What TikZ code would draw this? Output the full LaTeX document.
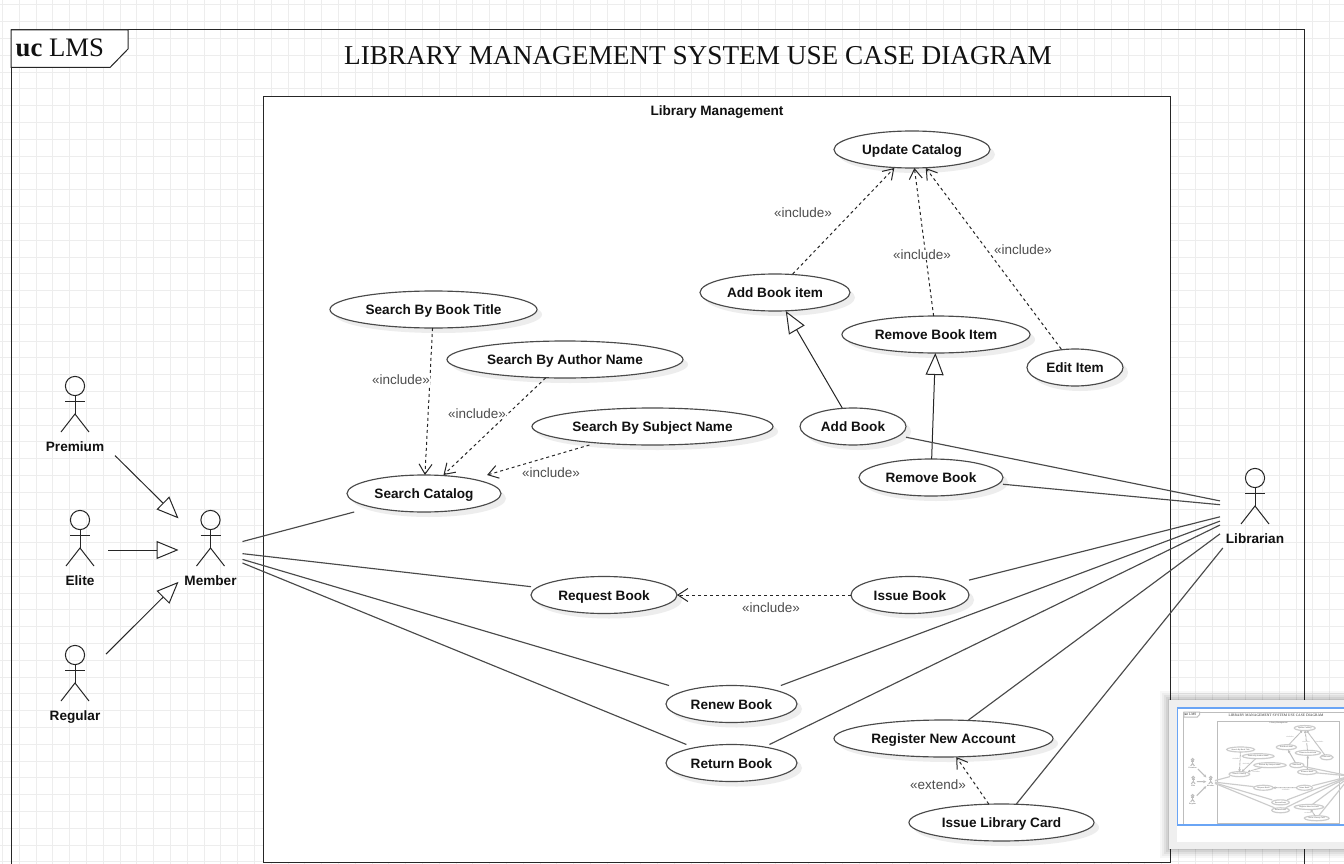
\documentclass[tikz,border=0pt]{standalone}
\usepackage{fontspec}
\setmainfont{Liberation Sans}
\newfontfamily\serifface{Liberation Serif}
\usetikzlibrary{arrows.meta,calc}
\definecolor{gridc}{HTML}{EDEDED}
\definecolor{inkc}{HTML}{262626}
\definecolor{softc}{HTML}{4A4A4A}
\definecolor{textc}{HTML}{111111}
\definecolor{titlec}{HTML}{111111}
\definecolor{labelc}{HTML}{4D4D4D}
\definecolor{shadowc}{HTML}{EDEDED}
\definecolor{bluec}{HTML}{6AA5F5}
\definecolor{shellc}{HTML}{EFEFEF}
\newcommand\lwv{1}
\newcommand\tsc{1}
\newcommand\shv{5}
\newcommand\dashlen{3}
\tikzset{
  x=1pt,y=-1pt,
  ink/.style={draw=inkc,line width=\lwv*1pt},
  soft/.style={draw=softc,line width=\lwv*1.15pt},
  boldtext/.style={font=\fontsize{13.6}{16}\selectfont\bfseries,text=textc,text height=12pt,text depth=1.4pt},
  usecase/.style={rectangle,inner sep=0pt,outer sep=0pt,minimum height=37pt,boldtext},
  casefill/.style={soft,fill=white},
  caseshadow/.style={fill=shadowc},
  actorbox/.style={rectangle,inner sep=0pt,outer sep=0pt,minimum height=80pt},
  actorname/.style={inner sep=0pt,boldtext},
  figure/.style={ink,fill=none},
  assoc/.style={soft},
  incl/.style={ink,dash pattern=on \dashlen pt off \dashlen pt,-{Straight Barb[length=10pt,width=13pt,scale=\tsc]}},
  genz/.style={ink,-{Triangle[open,fill=white,length=22pt,width=18pt,scale=\tsc]}},
  stereo/.style={fill=white,inner sep=0.5pt,text=labelc,font=\fontsize{13.5}{16}\selectfont},
}
\newcommand\usecasefig[5]{% name, x, y, width, text
  \fill[caseshadow] (#2+\shv,#3+\shv) ellipse[x radius=#4/2,y radius=18.5];
  \path[casefill] (#2,#3) ellipse[x radius=#4/2,y radius=18.5];
  \node[usecase,minimum width=#4pt] (#1) at (#2,#3) {#5};
}
\newcommand\actorfig[5]{% name, x, y, width, label
  \node[actorbox,minimum width=#4pt] (#1) at (#2,#3) {};
  \begin{scope}[shift={(#1.center)}]
    \draw[figure] (0,-30) circle[radius=9.6];
    \draw[figure] (0,-20.4) -- (0,-2);
    \draw[figure] (-10,-14.5) -- (10,-14.5);
    \draw[figure] (-14,16) -- (0,-2) -- (14,16);
  \end{scope}
  \node[actorname] (#1-name) at (#2,#3+30) {#5};
}
\newcommand\umldiagram{%
  \node[rectangle,ink,outer sep=0pt,minimum width=1293.5pt,minimum height=836pt,inner sep=0pt,anchor=north west] (frame) at (11,30) {};
  \path[ink,fill=white] (11,30) -- (128,30) -- (128,49) -- (110,67.5) -- (11,67.5) -- cycle;
  \node[inner sep=0pt,anchor=base west,text=titlec,font=\serifface\fontsize{26.7}{32}\selectfont] (tab) at (15.5,57) {\textbf{uc} LMS};
  \node[inner sep=0pt,text=titlec,font=\serifface\fontsize{27.25}{32}\selectfont] (title) at (698,56) {LIBRARY MANAGEMENT SYSTEM USE CASE DIAGRAM};
  \node[rectangle,ink,outer sep=0pt,fill=white,minimum width=907pt,minimum height=765.5pt,inner sep=0pt,anchor=north west] (system) at (263,97) {};
  \node[inner sep=0pt,boldtext] (systitle) at (717,110) {Library Management};
  % use cases
  \usecasefig{update}{912}{149.5}{156}{Update Catalog}
  \usecasefig{title1}{433.5}{309.5}{207}{Search By Book Title}
  \usecasefig{author}{565}{359.5}{236}{Search By Author Name}
  \usecasefig{subject}{652.5}{426.5}{241}{Search By Subject Name}
  \usecasefig{catalog}{424}{493.5}{154}{Search Catalog}
  \usecasefig{additem}{775}{292.5}{150}{Add Book item}
  \usecasefig{remitem}{936}{334.5}{188}{Remove Book Item}
  \usecasefig{edit}{1075}{367.5}{96}{Edit Item}
  \usecasefig{addbook}{853}{426.5}{106}{Add Book}
  \usecasefig{rembook}{931}{477.5}{144}{Remove Book}
  \usecasefig{request}{604}{595}{146}{Request Book}
  \usecasefig{issue}{910}{595}{118}{Issue Book}
  \usecasefig{renew}{731.5}{704}{131}{Renew Book}
  \usecasefig{return}{731.5}{763}{131}{Return Book}
  \usecasefig{register}{943.5}{738.5}{219}{Register New Account}
  \usecasefig{card}{1001.5}{822.5}{185}{Issue Library Card}
  % actors
  \actorfig{premium}{75}{416}{80}{Premium}
  \actorfig{elite}{80}{550}{56}{Elite}
  \actorfig{regular}{75}{685}{62}{Regular}
  \actorfig{member}{210.5}{550}{64}{Member}
  \actorfig{librarian}{1255}{508}{70}{Librarian}
  % generalisation
  \draw[genz] (premium) -- (member);
  \draw[genz] (elite) -- (member);
  \draw[genz] (regular) -- (member);
  \draw[genz] (addbook) -- (additem);
  \draw[genz] (rembook) -- (remitem);
  % associations
  \draw[assoc] (member) -- (catalog);
  \draw[assoc] (member) -- (request);
  \draw[assoc] (member) -- (renew);
  \draw[assoc] (member) -- (return);
  \draw[assoc] (addbook) -- (librarian);
  \draw[assoc] (rembook) -- (librarian);
  \draw[assoc] (issue) -- (librarian);
  \draw[assoc] (renew) -- (librarian);
  \draw[assoc] (return) -- (librarian);
  \draw[assoc] (register) -- (librarian);
  \draw[assoc] (card) -- (librarian);
  % include / extend
  \draw[incl] (title1) -- (catalog);
  \draw[incl] (author) -- (catalog);
  \draw[incl] (subject) -- (catalog);
  \draw[incl] (additem) -- (update);
  \draw[incl] (remitem) -- (update);
  \draw[incl] (edit) -- (update);
  \draw[incl] (issue) -- (request);
  \draw[incl] (card) -- (register);
  \node[stereo] (s1) at (401,380) {«include»};
  \node[stereo] (s2) at (477,414) {«include»};
  \node[stereo] (s3) at (551,473) {«include»};
  \node[stereo] (s4) at (803,213) {«include»};
  \node[stereo] (s5) at (922,255) {«include»};
  \node[stereo] (s6) at (1023,250) {«include»};
  \node[stereo] (s7) at (771,608) {«include»};
  \node[stereo] (s8) at (938,785) {«extend»};
}
\begin{document}
\begin{tikzpicture}
  \useasboundingbox (0,0) rectangle (1344,864);
  \clip (0,0) rectangle (1344,864);
  \fill[white] (0,0) rectangle (1344,864);
  \foreach \i in {0,...,80} {
    \draw[gridc,line width=1pt] ({2.5+16.8*\i},0) -- ++(0,864);
  }
  \foreach \i in {0,...,51} {
    \draw[gridc,line width=1pt] (0,{5+16.8*\i}) -- ++(1344,0);
  }
  \umldiagram
  % minimap panel
  \foreach \k/\o in {9/0.03,7/0.04,5/0.05,3/0.06,1/0.08} {
    \fill[black,opacity=\o] (1169-\k,700-\k) rectangle (1344,849+\k);
  }
  \fill[shellc] (1169,700) rectangle (1344,849);
  \fill[white] (1177,708) rectangle (1344,842);
  \begin{scope}
    \clip (1177,708) rectangle (1344,825);
    \begin{scope}[shift={(1182.5,708)},scale=0.134,transform shape]
      \definecolor{inkc}{HTML}{BDBDBD}
      \definecolor{softc}{HTML}{CCCCCC}
      \definecolor{textc}{HTML}{808080}
      \definecolor{titlec}{HTML}{303030}
      \definecolor{labelc}{HTML}{9A9A9A}
      \definecolor{shadowc}{HTML}{F7F7F7}
      \renewcommand\tsc{0.134}
      \renewcommand\dashlen{0.4}
      \umldiagram
    \end{scope}
  \end{scope}
  \draw[bluec,line width=1.5pt] (1350,708) -- (1177.5,708) -- (1177.5,825) -- (1350,825);
\end{tikzpicture}
\end{document}
